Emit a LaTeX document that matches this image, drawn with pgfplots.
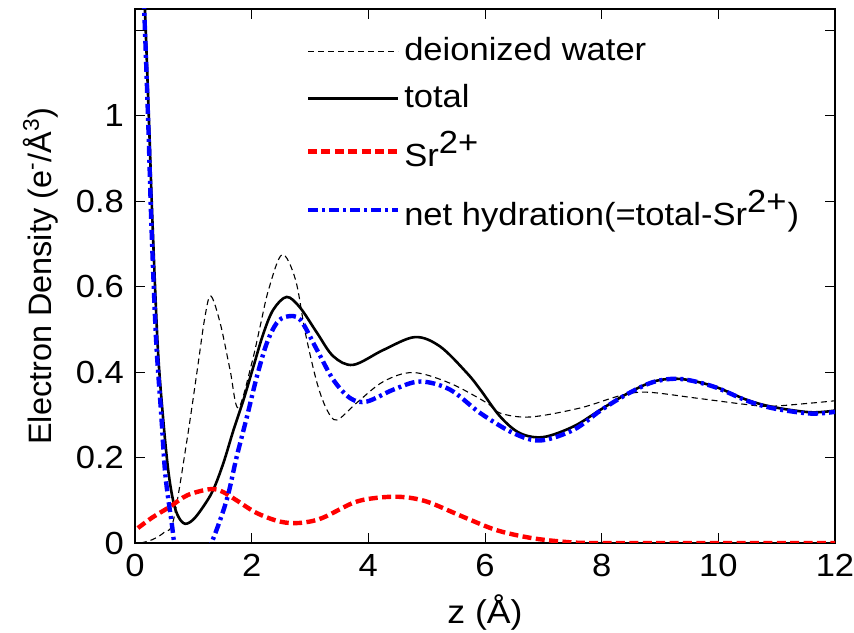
\documentclass[border=0pt]{standalone}
\usepackage{pgfplots}
\pgfplotsset{compat=1.18}
\usepackage{fontspec}
\setmainfont{Liberation Sans}[FakeStretch=1.08]
\newfontfamily\plainfont{Liberation Sans}
\begin{document}
\fontsize{16bp}{19bp}\selectfont
\begin{tikzpicture}
\useasboundingbox (-67.5bp,-45bp) rectangle (359.5bp,271.5bp);
\begin{axis}[
  at={(0,0)}, anchor=south west,
  scale only axis, width=350bp, height=267bp,
  xmin=0, xmax=12, ymin=0, ymax=1.25,
  xtick={0,2,...,12},
  ytick={0,0.2,0.4,0.6,0.8,1,1.2},
  yticklabels={0,0.2,0.4,0.6,0.8,1,},
  /pgf/number format/assume math mode=true,
  tick align=inside,
  major tick length=5bp,
  tick style={black, line width=0.5bp},
  axis line style={black, line width=0.6bp},
  ticklabel style={font=\fontsize{16bp}{19bp}\selectfont},
  xlabel style={font=\fontsize{16.5bp}{19bp}\selectfont, yshift=2bp},
  ylabel style={font=\plainfont\fontsize{16.2bp}{19bp}\selectfont, yshift=-2bp},
  xlabel={z (Å)},
  ylabel={Electron Density (e\textsuperscript{-}/Å\textsuperscript{3})},
  legend style={draw=none, fill=none, at={(rel axis cs:0.235,0.962)}, anchor=north west,
    font=\fontsize{16bp}{19bp}\selectfont, row sep=5.5bp, cells={anchor=west}},
  legend cell align=left,
  /pgfplots/legend image code/.code={\draw[#1] (0bp,0bp) -- (45bp,0bp);},
]
% deionized water
\addplot[black, line width=0.55bp, dash pattern=on 3bp off 2bp, smooth, tension=0.55] coordinates {
(0.10,0.0) (0.3,0.008) (0.5,0.025) (0.66,0.054) (0.89,0.24) (1.06,0.398) (1.2,0.53) (1.30,0.578)
(1.46,0.515) (1.63,0.405) (1.77,0.316) (2.0,0.42) (2.15,0.51) (2.29,0.593) (2.52,0.675) (2.75,0.617)
(2.92,0.492) (3.12,0.375) (3.29,0.312) (3.46,0.288) (3.8,0.328) (4.26,0.378) (4.77,0.399) (5.4,0.374)
(6.03,0.328) (6.26,0.304) (6.78,0.295) (7.63,0.316) (8.32,0.345) (8.78,0.353) (9.63,0.339)
(10.49,0.324) (10.89,0.32) (11.63,0.328) (12,0.333)
};
\addlegendentry{deionized water}
% total
\addplot[black, line width=1.3bp, smooth, tension=0.55] coordinates {
(0.10,1.48) (0.17,1.25) (0.244,0.97) (0.30,0.75) (0.39,0.46) (0.48,0.295) (0.57,0.17) (0.66,0.095)
(0.75,0.06) (0.86,0.045) (1.0,0.055) (1.17,0.085) (1.34,0.124) (1.515,0.187) (1.69,0.265) (1.86,0.335)
(2.03,0.413) (2.2,0.49) (2.37,0.546) (2.6,0.576) (2.83,0.551) (3.12,0.492) (3.4,0.437) (3.74,0.417)
(4.26,0.452) (4.8,0.482) (5.23,0.46) (5.69,0.398) (5.92,0.359) (6.26,0.296) (6.6,0.257) (7.0,0.248)
(7.52,0.273) (7.98,0.312) (8.43,0.349) (8.89,0.378) (9.35,0.384) (9.92,0.367) (10.49,0.335)
(10.95,0.318) (11.58,0.306) (12,0.31)
};
\addlegendentry{total}
% Sr2+
\addplot[red, line width=2.2bp, dash pattern=on 4.5bp off 2.2bp, smooth, tension=0.55] coordinates {
(0.05,0.035) (0.3,0.06) (0.6,0.085) (0.9,0.112) (1.29,0.126) (1.5,0.12) (1.74,0.1) (2.09,0.07)
(2.49,0.05) (2.83,0.047) (3.2,0.058) (3.74,0.094) (4.1,0.105) (4.55,0.108) (5.0,0.097) (5.63,0.061)
(6.2,0.03) (6.78,0.012) (7.34,0.003) (7.8,0.0) (9,0) (10,0) (11,0) (12,0)
};
\addlegendentry{Sr$^{\textrm{2+}}$}
% net hydration
\addplot[blue, line width=2.2bp, dash pattern=on 5bp off 2bp on 1.5bp off 2bp, smooth, tension=0.55] coordinates {
(0.09,1.47) (0.16,1.24) (0.23,0.97) (0.28,0.75) (0.36,0.48) (0.45,0.30) (0.52,0.16) (0.63,0.046)
(0.7,-0.02) (0.86,-0.07) (1.1,-0.05) (1.31,0.0) (1.57,0.1) (1.74,0.2) (1.92,0.296) (2.09,0.39)
(2.26,0.468) (2.43,0.515) (2.6,0.53) (2.83,0.523) (3.12,0.452) (3.4,0.382) (3.69,0.339) (3.97,0.331)
(4.43,0.359) (4.89,0.378) (5.4,0.359) (5.92,0.304) (6.49,0.257) (6.95,0.24) (7.52,0.265) (7.98,0.31)
(8.43,0.348) (8.89,0.377) (9.35,0.384) (9.92,0.366) (10.49,0.333) (10.95,0.315) (11.58,0.303) (12,0.307)
};
\addlegendentry{net hydration(=total-Sr$^{\textrm{2+}}$)}
\end{axis}
\end{tikzpicture}
\end{document}
